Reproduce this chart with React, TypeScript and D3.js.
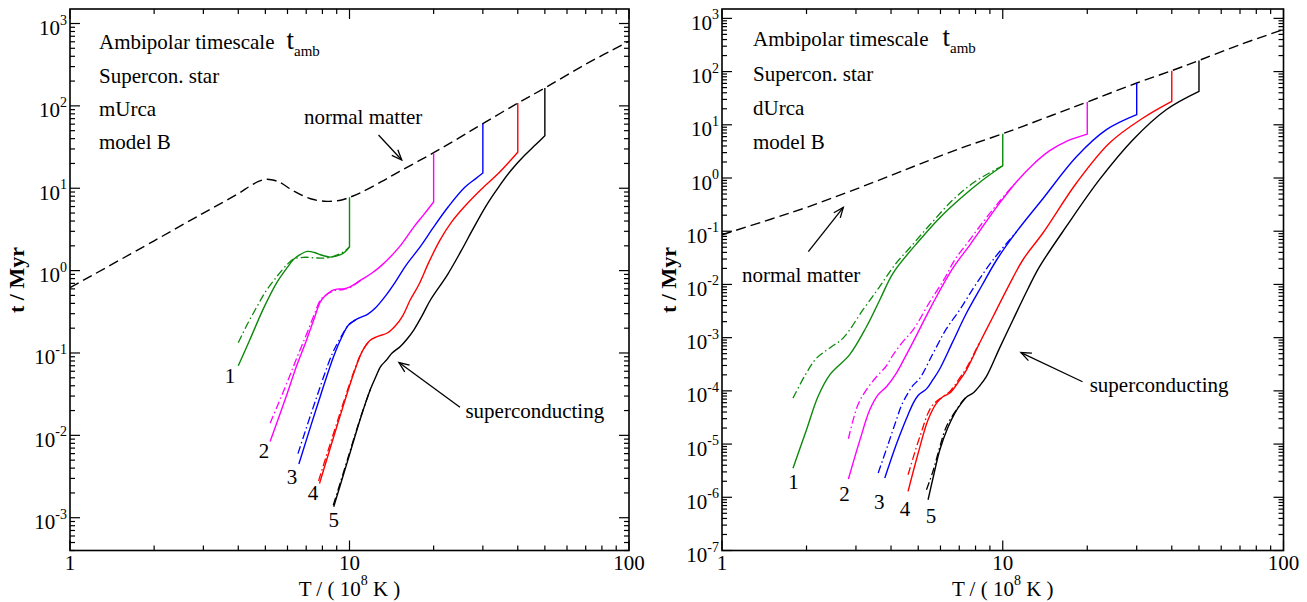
import React from "react";
import * as d3 from "d3";

type P = [number, number];

// ---------- axes / ticks ----------
const xDomain: [number, number] = [1, 100];
const xTickLabels = ["1", "10", "100"];
const xTickValues = [1, 10, 100];
const yTopValue = 1500;
const yMinLeft = 4e-4;
const yMinRight = 1e-7;
const yExpLeft = [-3, -2, -1, 0, 1, 2, 3];
const yExpRight = [-7, -6, -5, -4, -3, -2, -1, 0, 1, 2, 3];

const curveColors = ["#0b8a0b", "#ff00ff", "#0000ff", "#ff0000", "#000000"];
const curveNames = ["1", "2", "3", "4", "5"];

// ---------- LEFT panel (mUrca) ----------
const normalLeft: P[] = [
  [1, 0.62], [2, 2.3], [3, 5.0], [4, 8.6], [4.4, 10.6], [4.75, 12.2], [5.0, 12.8], [5.25, 12.7],
  [5.6, 11.9], [6.3, 9.3], [7.25, 7.45], [8.3, 6.93], [9.3, 7.15], [10, 7.75], [11, 8.9], [13, 12],
  [15, 15.8], [20, 27], [25, 42], [30, 61], [40, 108], [50, 165], [70, 320], [100, 610],
];
const greenSolidL: P[] = [
  [4.0, 0.07], [4.4, 0.145], [4.93, 0.35], [5.5, 0.72], [6.0, 1.1], [6.3, 1.36], [6.65, 1.56],
  [7.05, 1.71], [7.5, 1.66], [7.87, 1.56], [8.55, 1.46], [9.3, 1.56], [9.7, 1.72], [10, 1.94],
];
const greenDashL: P[] = [
  [4.0, 0.133], [4.3, 0.22], [4.67, 0.367], [5.0, 0.55], [5.5, 0.85], [6.0, 1.2], [6.3, 1.38],
  [6.85, 1.45], [7.5, 1.43], [8.2, 1.42], [8.8, 1.5], [9.5, 1.68], [10, 1.94],
];
const magentaSolidL: P[] = [
  [5.2, 0.0084], [6.0, 0.033], [6.46, 0.069], [7.0, 0.14], [7.5, 0.27], [7.87, 0.42], [8.2, 0.5],
  [8.6, 0.565], [9.0, 0.595], [9.5, 0.6], [10, 0.63], [11, 0.77], [12, 0.93], [13, 1.15], [15, 1.9],
  [17, 3.4], [18.5, 4.85], [20, 6.8],
];
const magentaDashL: P[] = [
  [5.2, 0.014], [6.0, 0.045], [6.46, 0.085], [7.0, 0.165], [7.5, 0.3], [7.87, 0.44], [8.2, 0.5],
  [8.6, 0.55], [9.0, 0.58], [9.5, 0.59], [10, 0.62], [11, 0.77],
];
const blueSolidL: P[] = [
  [6.59, 0.0045], [7.65, 0.0224], [8.78, 0.091], [9.36, 0.153], [9.94, 0.22], [10.8, 0.265],
  [11.6, 0.295], [12.4, 0.354], [13.5, 0.5], [14.6, 0.73], [15.9, 1.15], [18, 2.0], [19.9, 3.3],
  [22.6, 6.0], [25.8, 10.2], [28.3, 13.1], [30, 15.3],
];
const blueDashL: P[] = [
  [6.54, 0.006], [7.6, 0.028], [8.7, 0.1], [9.36, 0.16], [9.94, 0.22], [10.8, 0.265],
];
const redSolidL: P[] = [
  [7.81, 0.0026], [9.09, 0.0141], [10.46, 0.0625], [11.13, 0.106], [11.8, 0.141], [12.5, 0.157],
  [13.7, 0.176], [14.6, 0.214], [15.5, 0.283], [16.5, 0.443], [17.7, 0.674], [19.2, 1.25], [21, 2.3],
  [23.2, 3.9], [25.8, 6.0], [29.5, 9.6], [34.2, 15.3], [37.8, 22], [40, 27.3],
];
const redDashL: P[] = [
  [7.75, 0.0028], [9.05, 0.0148], [10.45, 0.064], [11.13, 0.107], [11.8, 0.141],
];
const blackSolidL: P[] = [
  [8.78, 0.00136], [9.83, 0.0048], [11.0, 0.0169], [11.9, 0.0367], [12.5, 0.054], [12.9, 0.068],
  [13.6, 0.083], [14.2, 0.1], [15.2, 0.12], [16.1, 0.149], [17, 0.191], [18.25, 0.29], [19.5, 0.443],
  [22.4, 0.89], [25, 1.7], [27.7, 3.23], [30.7, 6.0], [34.2, 10.4], [37.8, 16.4], [42, 24.4],
  [46.4, 33.9], [50, 43.5],
];
const blackDashL: P[] = [
  [8.75, 0.00142], [9.8, 0.0049], [11.0, 0.0172], [11.9, 0.037],
];

// ---------- RIGHT panel (dUrca) ----------
const normalRight: P[] = [
  [1, 0.086], [1.5, 0.17], [2, 0.28], [3, 0.62], [4, 1.12], [5, 1.78], [7, 3.55], [10, 6.8],
  [15, 15.1], [20, 26.8], [30, 61], [40, 104], [50, 162], [70, 320], [100, 620],
];
const greenSolidR: P[] = [
  [1.79, 3.5e-6], [2.0, 1.86e-5], [2.2, 7.9e-5], [2.42, 2.0e-4], [2.85, 4.8e-4], [3.27, 1.6e-3],
  [3.65, 5.15e-3], [4.07, 0.0164], [5.07, 0.069], [5.97, 0.18], [7.13, 0.43], [8.42, 0.89], [10, 1.7],
];
const greenDashR: P[] = [
  [1.79, 7.3e-5], [1.97, 1.9e-4], [2.17, 4.1e-4], [2.42, 6.4e-4], [2.7, 9.8e-4], [3.18, 3.35e-3],
  [3.65, 9.2e-3], [4.13, 0.0235], [4.67, 0.049], [5.5, 0.132], [6.65, 0.39], [7.95, 0.85], [10, 1.7],
];
const magentaSolidR: P[] = [
  [2.82, 2.2e-6], [3.1, 1.2e-5], [3.36, 4.4e-5], [3.6, 8.5e-5], [3.86, 1.21e-4], [4.18, 2.16e-4],
  [4.48, 4.2e-4], [4.8, 8.4e-4], [5.65, 4.5e-3], [6.66, 0.0206], [7.63, 0.055], [9.0, 0.19],
  [9.76, 0.34], [11.2, 0.85], [12.8, 1.78], [14.7, 3.26], [17, 5.0], [20, 6.7],
];
const magentaDashR: P[] = [
  [2.82, 1.26e-5], [3.05, 5.5e-5], [3.27, 1.05e-4], [3.55, 1.84e-4], [3.83, 2.84e-4], [4.07, 4.77e-4],
  [4.41, 8.4e-4], [4.8, 1.41e-3], [5.5, 4.73e-3], [6.17, 0.0123], [6.75, 0.029], [7.63, 0.069],
  [8.63, 0.164], [9.76, 0.37], [11.2, 0.85],
];
const blueSolidR: P[] = [
  [3.8, 2.3e-6], [4.16, 9.3e-6], [4.42, 2.14e-5], [4.6, 3.56e-5], [4.8, 5.9e-5], [5.02, 8.45e-5],
  [5.35, 1.09e-4], [5.64, 1.62e-4], [5.97, 2.6e-4], [6.64, 8.4e-4], [7.43, 2.9e-3], [8.42, 9.45e-3],
  [9.52, 0.0291], [11.2, 0.098], [13.8, 0.39], [18.3, 2.51], [23.4, 8.1], [30, 15.5],
];
const blueDashR: P[] = [
  [3.6, 2.85e-6], [3.9, 9.7e-6], [4.18, 2.86e-5], [4.37, 5.5e-5], [4.6, 9.1e-5], [4.78, 1.25e-4],
  [5.07, 1.74e-4], [5.65, 5.1e-4], [6.27, 1.41e-3], [7.03, 3.34e-3], [8.01, 9.9e-3], [9.24, 0.0291],
  [11.2, 0.098],
];
const redSolidR: P[] = [
  [4.6, 1.29e-6], [4.98, 6.3e-6], [5.42, 2.86e-5], [5.81, 5.9e-5], [6.12, 7.75e-5], [6.48, 9.1e-5],
  [6.92, 1.42e-4], [7.43, 2.49e-4], [8.28, 8.0e-4], [9.24, 2.5e-3], [10.42, 8.7e-3], [11.8, 0.0291],
  [13.9, 0.0925], [18.3, 0.805], [24, 4.55], [31.6, 13.4], [40, 27.5],
];
const redDashR: P[] = [
  [4.6, 2.65e-6], [5.07, 1.39e-5], [5.58, 5.1e-5], [6.13, 7.85e-5], [6.48, 9.75e-5], [6.92, 1.55e-4],
  [7.43, 2.72e-4], [8.28, 8.3e-4],
];
const blackSolidR: P[] = [
  [5.42, 9e-7], [5.68, 2.65e-6], [5.97, 7.8e-6], [6.37, 2.02e-5], [6.75, 3.83e-5], [7.13, 5.9e-5],
  [7.45, 7.75e-5], [7.84, 9.1e-5], [8.28, 1.25e-4], [8.75, 1.87e-4], [9.76, 6.5e-4], [10.88, 2.17e-3],
  [12.3, 8.3e-3], [13.54, 0.0218], [16.85, 0.123], [22.1, 0.93], [29.1, 5.25], [38.2, 19.2], [50, 42.5],
];
const blackDashR: P[] = [
  [5.35, 1.38e-6], [5.65, 3.15e-6], [5.97, 8.9e-6], [6.3, 2.14e-5], [6.84, 4.41e-5], [7.15, 6.2e-5],
  [7.45, 7.9e-5],
];

// ---------- annotations (data coordinates) ----------
const curveLabelPosL: P[] = [[3.736, 0.0436], [4.945, 0.00536], [6.228, 0.00255], [7.404, 0.00164], [8.781, 0.000778]];
const curveLabelPosR: P[] = [[1.796, 1.45e-6], [2.732, 8.62e-7], [3.634, 6.02e-7], [4.485, 4.5e-7], [5.553, 3.24e-7]];

const infoLeft = ["Supercon. star", "mUrca", "model B"];
const infoRight = ["Supercon. star", "dUrca", "model B"];

// layout
const W = 1307;
const H = 602;
const TOP = 9;
const BOTTOM = 550.5;
const FONT = "'Liberation Serif', 'Times New Roman', Times, serif";

function interpLog(arr: P[], T: number): number {
  for (let i = 0; i < arr.length - 1; i++) {
    const [a, fa] = arr[i];
    const [b, fb] = arr[i + 1];
    if (T >= a && T <= b) {
      const f = (Math.log(T) - Math.log(a)) / (Math.log(b) - Math.log(a));
      return Math.exp(Math.log(fa) + f * (Math.log(fb) - Math.log(fa)));
    }
  }
  return arr[arr.length - 1][1];
}

type Series = { color: string; solid: P[]; dash: P[] };

type PanelProps = {
  x0: number;
  x1: number;
  yMin: number;
  yExps: number[];
  normal: P[];
  series: Series[];
  labelPos: P[];
  info: string[];
  infoX: number;
  infoY: number[];
  ambDx: number;
  normalText: P;
  normalArrow: [P, P];
  scText: P;
  scArrow: [P, P];
  yTitleX: number;
};

function Arrow({ from, to }: { from: [number, number]; to: [number, number] }) {
  const ang = Math.atan2(to[1] - from[1], to[0] - from[0]);
  const L = 11;
  const a = (22 * Math.PI) / 180;
  const h1 = [to[0] - L * Math.cos(ang - a), to[1] - L * Math.sin(ang - a)];
  const h2 = [to[0] - L * Math.cos(ang + a), to[1] - L * Math.sin(ang + a)];
  return (
    <g stroke="#000" strokeWidth={1.3} fill="none">
      <line x1={from[0]} y1={from[1]} x2={to[0]} y2={to[1]} />
      <polyline points={`${h1[0]},${h1[1]} ${to[0]},${to[1]} ${h2[0]},${h2[1]}`} />
    </g>
  );
}

function Panel(p: PanelProps) {
  const xs = d3.scaleLog().domain(xDomain).range([p.x0, p.x1]);
  const ys = d3.scaleLog().domain([p.yMin, yTopValue]).range([BOTTOM, TOP]);
  const line = d3
    .line<P>()
    .x((d) => xs(d[0]))
    .y((d) => ys(d[1]))
    .curve(d3.curveCatmullRom.alpha(0.5));

  // ticks
  const xMinor: number[] = [];
  for (let d = 0; d < 2; d++) for (let k = 2; k <= 9; k++) xMinor.push(k * Math.pow(10, d));
  const yMinor: number[] = [];
  const e0 = Math.floor(Math.log10(p.yMin));
  for (let e = e0; e <= 3; e++)
    for (let k = 2; k <= 9; k++) {
      const v = k * Math.pow(10, e);
      if (v >= p.yMin * 0.999 && v <= yTopValue) yMinor.push(v);
    }
  const MAJ = 10;
  const MIN = 5;
  const tickStroke = { stroke: "#000", strokeWidth: 1.2 };

  const pt = (d: P): [number, number] => [xs(d[0]), ys(d[1])];

  return (
    <g fontFamily={FONT}>
      {/* normal matter dashed */}
      <path d={line(p.normal) || ""} fill="none" stroke="#000" strokeWidth={1.4} strokeDasharray="10 5" />
      {/* curves */}
      {p.series.map((s, i) => {
        const last = s.solid[s.solid.length - 1];
        const top = interpLog(p.normal, last[0]);
        const d = (line(s.solid) || "") + `L${xs(last[0])},${ys(top)}`;
        return (
          <g key={i}>
            <path d={line(s.dash) || ""} fill="none" stroke={s.color} strokeWidth={1.3} strokeDasharray="8 3 1.5 3" />
            <path d={d} fill="none" stroke={s.color} strokeWidth={1.4} />
          </g>
        );
      })}
      {/* frame */}
      <rect x={p.x0} y={TOP} width={p.x1 - p.x0} height={BOTTOM - TOP} fill="none" stroke="#000" strokeWidth={1.6} />
      {/* x ticks */}
      {xTickValues.map((v) => (
        <g key={"xm" + v} {...tickStroke}>
          <line x1={xs(v)} x2={xs(v)} y1={BOTTOM} y2={BOTTOM - MAJ} />
          <line x1={xs(v)} x2={xs(v)} y1={TOP} y2={TOP + MAJ} />
        </g>
      ))}
      {xMinor.map((v) => (
        <g key={"xn" + v} {...tickStroke}>
          <line x1={xs(v)} x2={xs(v)} y1={BOTTOM} y2={BOTTOM - MIN} />
          <line x1={xs(v)} x2={xs(v)} y1={TOP} y2={TOP + MIN} />
        </g>
      ))}
      {/* y ticks */}
      {p.yExps.map((e) => {
        const y = ys(Math.pow(10, e));
        return (
          <g key={"ym" + e} {...tickStroke}>
            <line x1={p.x0} x2={p.x0 + MAJ} y1={y} y2={y} />
            <line x1={p.x1} x2={p.x1 - MAJ} y1={y} y2={y} />
          </g>
        );
      })}
      {yMinor.map((v, i) => {
        const y = ys(v);
        return (
          <g key={"yn" + i} {...tickStroke}>
            <line x1={p.x0} x2={p.x0 + MIN} y1={y} y2={y} />
            <line x1={p.x1} x2={p.x1 - MIN} y1={y} y2={y} />
          </g>
        );
      })}
      {/* x tick labels */}
      {xTickValues.map((v, i) => (
        <text key={"xl" + v} x={xs(v)} y={569.5} fontSize={21} textAnchor="middle">
          {xTickLabels[i]}
        </text>
      ))}
      {/* y tick labels */}
      {p.yExps.map((e) => (
        <text key={"yl" + e} x={p.x0 - 3} y={ys(Math.pow(10, e)) + 11.5} fontSize={21} textAnchor="end">
          10
          <tspan dy={-10.5} fontSize={14}>
            {String(e)}
          </tspan>
        </text>
      ))}
      {/* axis titles */}
      <text x={(p.x0 + p.x1) / 2} y={596} fontSize={21} textAnchor="middle">
        T / ( 10
        <tspan dy={-11} fontSize={14}>
          8
        </tspan>
        <tspan dy={11}> K )</tspan>
      </text>
      <text
        transform={`translate(${p.yTitleX},280) rotate(-90)`}
        fontSize={22}
        fontWeight="bold"
        textAnchor="middle"
      >
        t / Myr
      </text>
      {/* info block */}
      <text x={p.infoX} y={p.infoY[0]} fontSize={21}>
        Ambipolar timescale
        <tspan dx={p.ambDx} fontSize={27}>
          t
        </tspan>
        <tspan dy={6.5} fontSize={15}>
          amb
        </tspan>
      </text>
      {p.info.map((s, i) => (
        <text key={"info" + i} x={p.infoX} y={p.infoY[i + 1]} fontSize={21}>
          {s}
        </text>
      ))}
      {/* curve labels */}
      {p.labelPos.map((d, i) => (
        <text key={"cl" + i} x={xs(d[0])} y={ys(d[1])} fontSize={21} textAnchor="middle">
          {curveNames[i]}
        </text>
      ))}
      {/* normal matter / superconducting */}
      <text x={xs(p.normalText[0])} y={ys(p.normalText[1])} fontSize={21}>
        normal matter
      </text>
      <Arrow from={pt(p.normalArrow[0])} to={pt(p.normalArrow[1])} />
      <text x={xs(p.scText[0])} y={ys(p.scText[1])} fontSize={21}>
        superconducting
      </text>
      <Arrow from={pt(p.scArrow[0])} to={pt(p.scArrow[1])} />
    </g>
  );
}

const seriesLeft: Series[] = [
  { color: curveColors[0], solid: greenSolidL, dash: greenDashL },
  { color: curveColors[1], solid: magentaSolidL, dash: magentaDashL },
  { color: curveColors[2], solid: blueSolidL, dash: blueDashL },
  { color: curveColors[3], solid: redSolidL, dash: redDashL },
  { color: curveColors[4], solid: blackSolidL, dash: blackDashL },
];
const seriesRight: Series[] = [
  { color: curveColors[0], solid: greenSolidR, dash: greenDashR },
  { color: curveColors[1], solid: magentaSolidR, dash: magentaDashR },
  { color: curveColors[2], solid: blueSolidR, dash: blueDashR },
  { color: curveColors[3], solid: redSolidR, dash: redDashR },
  { color: curveColors[4], solid: blackSolidR, dash: blackDashR },
];

export default function App() {
  return (
    <div style={{ position: "fixed", left: 0, top: 0, width: W, height: H, background: "#fff" }}>
      <svg width={W} height={H} viewBox={`0 0 ${W} ${H}`} style={{ display: "block" }}>
        <rect width={W} height={H} fill="#fff" />
        <Panel
          x0={70}
          x1={629}
          yMin={yMinLeft}
          yExps={yExpLeft}
          normal={normalLeft}
          series={seriesLeft}
          labelPos={curveLabelPosL}
          info={infoLeft}
          infoX={99}
          infoY={[49, 82.5, 116, 149.3]}
          ambDx={12}
          normalText={[6.87, 59.8]}
          normalArrow={[[12.7, 44.3], [15.38, 22.0]]}
          scText={[25.98, 0.01638]}
          scArrow={[[24.85, 0.0219], [15.03, 0.0766]]}
          yTitleX={24}
        />
        <Panel
          x0={722}
          x1={1283.5}
          yMin={yMinRight}
          yExps={yExpRight}
          normal={normalRight}
          series={seriesRight}
          labelPos={curveLabelPosR}
          info={infoRight}
          infoX={753}
          infoY={[46, 81, 115, 149]}
          ambDx={14}
          normalText={[1.178, 0.01125]}
          normalArrow={[[2.03, 0.0412], [2.705, 0.2813]]}
          scText={[20.4, 9.63e-5]}
          scArrow={[[19.24, 1.485e-4], [11.61, 5.25e-4]]}
          yTitleX={676}
        />
      </svg>
    </div>
  );
}
